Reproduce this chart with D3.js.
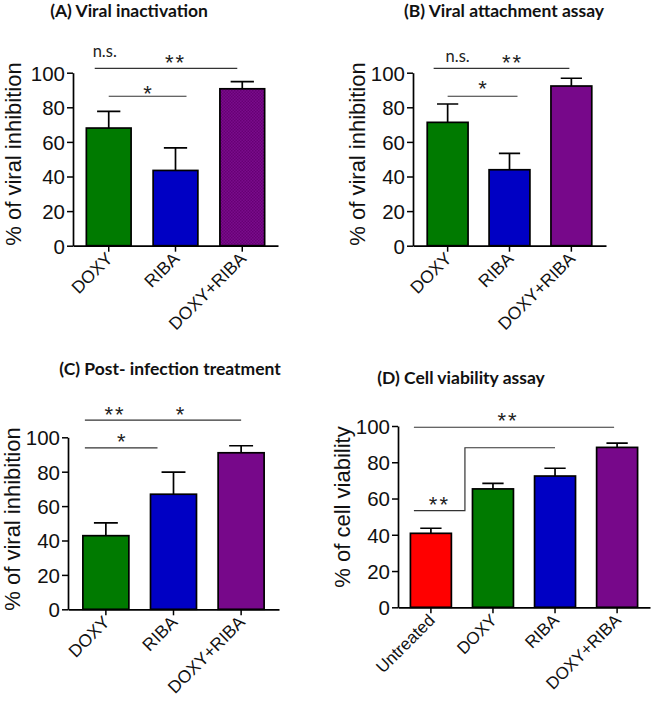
<!DOCTYPE html>
<html><head><meta charset="utf-8">
<script src="https://cdn.jsdelivr.net/npm/d3@7"></script>
<style>body{margin:0;background:#fff;}svg{display:block;}</style>
</head><body>
<svg id="chart" width="651" height="703"></svg>
<script>
// ---- data ----
const catsABC = ["DOXY", "RIBA", "DOXY+RIBA"];
const catsD = ["Untreated", "DOXY", "RIBA", "DOXY+RIBA"];
const meanA = [68.0, 43.5, 90.7];
const sdA = [9.7, 13.0, 4.1];
const meanB = [71.3, 43.9, 92.3];
const sdB = [10.6, 9.5, 4.5];
const meanC = [42.8, 66.9, 91.0];
const sdC = [7.5, 12.8, 4.1];
const meanD = [40.8, 65.3, 72.4, 88.2];
const sdD = [2.8, 3.1, 4.3, 2.3];
const yTicks = [0, 20, 40, 60, 80, 100];
const titles = ["(A) Viral inactivation", "(B) Viral attachment assay", "(C) Post- infection treatment", "(D) Cell viability assay"];
const yLabels = ["% of viral inhibition", "% of viral inhibition", "% of viral inhibition", "% of cell viability"];
// significance annotations: [fromCat, toCat, yValue, label]
const sigA = [["DOXY", "DOXY+RIBA", 102.5, "**"], ["DOXY", "RIBA", 86.4, "*"]];
const sigB = [["DOXY", "DOXY+RIBA", 102.5, "**"], ["DOXY", "RIBA", 86.4, "*"]];
const sigC = [["DOXY", "DOXY+RIBA", 110, "*"], ["DOXY", "RIBA", 93.8, "*"]];
const sigD = [["Untreated", "DOXY+RIBA", 99.3, "**"], ["Untreated", "RIBA", 53.3, "**"]];

const colorsABC = ["#007a00", "#0000c4", "#77088a"];
const colorsD = ["#ff0000", "#007a00", "#0000c4", "#77088a"];

const svg = d3.select("#chart");
const defs = svg.append("defs");
const pat = defs.append("pattern").attr("id", "hatch").attr("patternUnits", "userSpaceOnUse")
  .attr("width", 3).attr("height", 3);
pat.append("rect").attr("width", 3).attr("height", 3).attr("fill", "#7a0c8c");
pat.append("rect").attr("width", 1.5).attr("height", 1.5).attr("fill", "#660074");
pat.append("rect").attr("x", 1.5).attr("y", 1.5).attr("width", 1.5).attr("height", 1.5).attr("fill", "#660074");

const FONT = "Arial, 'Liberation Sans', sans-serif";
const TFONT = "Lato, 'Open Sans', sans-serif";

function panel(cfg) {
  const g = svg.append("g");
  const y = d3.scaleLinear().domain([0, 100]).range([cfg.yBottom, cfg.yTop]);
  const x = d3.scaleBand().domain(cfg.cats).range([cfg.xLeft, cfg.xRight])
    .paddingInner(cfg.pi).paddingOuter(cfg.po);
  const bw = x.bandwidth();
  const cx = c => x(c) + bw / 2;

  // title
  g.append("text").attr("x", cfg.titleX).attr("y", cfg.titleY).attr("text-anchor", "middle")
    .attr("font-family", TFONT).attr("font-weight", "bold").attr("font-size", 17.5)
    .attr("fill", "#111").text(cfg.title);

  const data = cfg.cats.map((c, i) => ({c, m: cfg.mean[i], s: cfg.sd[i], col: cfg.colors[i]}));
  // error bars
  g.selectAll(".eb").data(data).enter().append("path")
    .attr("d", d => `M${cx(d.c)},${y(d.m)}V${y(d.m + d.s)}M${cx(d.c) - bw * 0.26},${y(d.m + d.s)}H${cx(d.c) + bw * 0.26}`)
    .attr("stroke", "#000").attr("stroke-width", 1.7).attr("fill", "none");
  // bars
  g.selectAll(".bar").data(data).enter().append("rect")
    .attr("x", d => x(d.c)).attr("width", bw)
    .attr("y", d => y(d.m)).attr("height", d => y(0) - y(d.m))
    .attr("fill", (d, i) => (cfg.hatchLast && i === data.length - 1) ? "url(#hatch)" : d.col)
    .attr("stroke", "#000").attr("stroke-width", 1.7);

  // axes
  const ya = g.append("g").attr("transform", `translate(${cfg.xLeft},0)`)
    .call(d3.axisLeft(y).tickValues(yTicks).tickSize(6).tickSizeOuter(0).tickPadding(2));
  ya.select(".domain").attr("stroke-width", 1.7);
  ya.selectAll(".tick line").attr("stroke-width", 1.5);
  ya.selectAll("text").attr("font-family", FONT).attr("font-size", 20.5).attr("fill", "#111").attr("dy", "0.36em");

  const xa = g.append("g").attr("transform", `translate(0,${cfg.yBottom})`)
    .call(d3.axisBottom(x).tickSize(6).tickSizeOuter(0).tickFormat(() => ""));
  xa.select(".domain").attr("stroke-width", 1.7);
  xa.selectAll(".tick line").attr("stroke-width", 1.5);

  // rotated x labels
  g.selectAll(".xl").data(cfg.cats).enter().append("text")
    .attr("transform", c => `translate(${cx(c) + cfg.lblDx},${cfg.yBottom + cfg.lblDy}) rotate(-45)`)
    .attr("text-anchor", "end").attr("font-family", FONT).attr("font-size", cfg.lblSize)
    .attr("fill", "#111").text(c => c);

  // y label
  g.append("text").attr("transform", `translate(${cfg.yLabX},${cfg.yLabY}) rotate(-90)`)
    .attr("text-anchor", "middle").attr("font-family", FONT).attr("font-size", cfg.yLabSize)
    .attr("fill", "#111").text(cfg.yLabel);

  cfg.draw(g, x, y, cx, bw);
}

function sigLine(g, x1, x2, yy) {
  g.append("line").attr("x1", x1).attr("x2", x2).attr("y1", yy).attr("y2", yy)
    .attr("stroke", "#333").attr("stroke-width", 1.2);
}
function star(g, xc, bottom, s) {
  const fs = 22;
  g.append("text").attr("x", xc).attr("y", bottom + 0.36 * fs).attr("text-anchor", "middle")
    .attr("font-family", FONT).attr("font-size", fs).attr("fill", "#222")
    .attr("letter-spacing", s.length > 1 ? 2 : 0).text(s);
}
function ns(g, xc, baseline) {
  g.append("text").attr("x", xc).attr("y", baseline).attr("text-anchor", "middle")
    .attr("font-family", TFONT).attr("font-size", 16.5).attr("fill", "#222").text("n.s.");
}

panel({
  title: titles[0], titleX: 129, titleY: 17, cats: catsABC, mean: meanA, sd: sdA, colors: colorsABC, hatchLast: true,
  xLeft: 73, xRight: 278, yTop: 72.7, yBottom: 245.7, pi: 0.33, po: 0.2,
  lblDx: 5, lblDy: 14, lblSize: 17.5, yLabel: yLabels[0], yLabX: 21, yLabY: 154, yLabSize: 22,
  draw: (g, x, y, cx) => {
    const s = sigA;
    sigLine(g, cx(s[0][0]) - 14, cx(s[0][1]) - 5, y(s[0][2]));
    ns(g, cx(s[0][0]) - 4, 57);
    star(g, cx("RIBA"), 62, s[0][3]);
    sigLine(g, cx(s[1][0]), cx(s[1][1]) + 11, y(s[1][2]));
    star(g, (cx(s[1][0]) + cx(s[1][1]) + 11) / 2, 93, s[1][3]);
  }
});

panel({
  title: titles[1], titleX: 504, titleY: 17, cats: catsABC, mean: meanB, sd: sdB, colors: colorsABC,
  xLeft: 413, xRight: 606, yTop: 72.7, yBottom: 245.7, pi: 0.34, po: 0.23,
  lblDx: 5, lblDy: 14, lblSize: 17.5, yLabel: yLabels[1], yLabX: 365, yLabY: 154, yLabSize: 22,
  draw: (g, x, y, cx) => {
    const s = sigB;
    sigLine(g, cx(s[0][0]) - 14, cx(s[0][1]) - 2, y(s[0][2]));
    ns(g, cx(s[0][0]) + 10, 62);
    star(g, cx("RIBA") + 3, 62, s[0][3]);
    sigLine(g, cx(s[1][0]), cx(s[1][1]) + 8, y(s[1][2]));
    star(g, (cx(s[1][0]) + cx(s[1][1]) + 8) / 2, 88, s[1][3]);
  }
});

panel({
  title: titles[2], titleX: 170, titleY: 375, cats: catsABC, mean: meanC, sd: sdC, colors: colorsABC,
  xLeft: 68, xRight: 279, yTop: 437.3, yBottom: 609.3, pi: 0.32, po: 0.22,
  lblDx: 5, lblDy: 14, lblSize: 17.5, yLabel: yLabels[2], yLabX: 20, yLabY: 519, yLabSize: 22,
  draw: (g, x, y, cx) => {
    const s = sigC;
    const x1 = cx(s[0][0]) - 21;
    sigLine(g, x1, cx(s[0][1]), y(s[0][2]));
    star(g, 115, 414, "**");
    star(g, 180, 414, s[0][3]);
    sigLine(g, x1, cx(s[1][1]) - 16, y(s[1][2]));
    star(g, (x1 + cx(s[1][1]) - 16) / 2, 440.7, s[1][3]);
  }
});

panel({
  title: titles[3], titleX: 461, titleY: 384, cats: catsD, mean: meanD, sd: sdD, colors: colorsD,
  xLeft: 398, xRight: 650, yTop: 426, yBottom: 607.3, pi: 0.34, po: 0.2,
  lblDx: 5, lblDy: 14, lblSize: 17, yLabel: yLabels[3], yLabX: 350, yLabY: 507, yLabSize: 22,
  draw: (g, x, y, cx) => {
    const s = sigD;
    const x1 = cx(s[0][0]) - 17;
    sigLine(g, x1, cx(s[0][1]) - 3, y(s[0][2]));
    star(g, 508, 420, s[0][3]);
    const xm = (cx("Untreated") + cx("DOXY")) / 2 + 3;
    g.append("path").attr("d", `M${x1},${y(s[1][2])}H${xm}V${y(88)}H${cx(s[1][1])}`)
      .attr("fill", "none").attr("stroke", "#333").attr("stroke-width", 1.2);
    star(g, (x1 + xm) / 2, 504, s[1][3]);
  }
});
</script>
</body></html>
